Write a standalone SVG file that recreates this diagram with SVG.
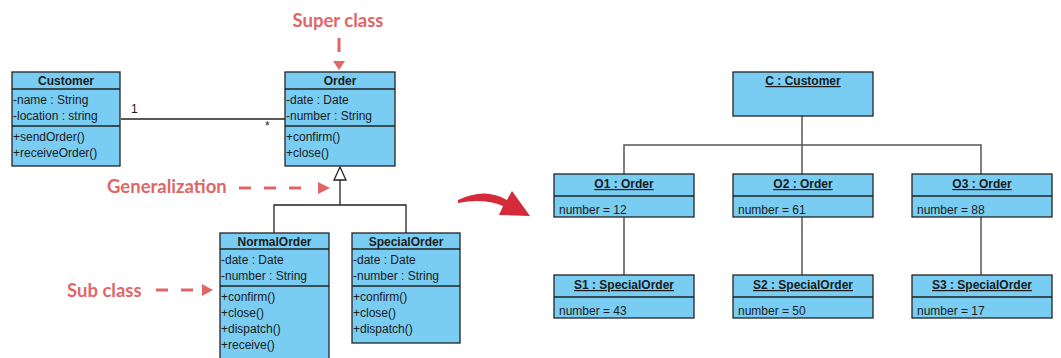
<svg xmlns="http://www.w3.org/2000/svg" width="1061" height="358" viewBox="0 0 1061 358">
<defs>
<style>
.box{fill:#79cdf3;stroke:#222;stroke-width:1.3}
.div{stroke:#222;stroke-width:1.3}
.t{font-family:"Liberation Sans",Arial,sans-serif;font-size:12px;fill:#1a1a1a}
.b{font-weight:bold;text-anchor:middle}
.u{text-decoration:underline}
.ann{font-family:Lato,"Liberation Sans",sans-serif;font-size:18.5px;font-weight:bold;fill:#e06666}
.dash{stroke:#e06666;stroke-width:3;stroke-dasharray:12 13;fill:none}
.ah{fill:#e06666}
.ln{stroke:#222;stroke-width:1.3;fill:none}
.gl{stroke:#555;stroke-width:1.5;fill:none}
</style>
</defs>
<g id="connectors">
<line class="ln" x1="121" y1="119" x2="285" y2="119"/>
<text class="t" x="131" y="113">1</text>
<text class="t" x="265" y="130">*</text>
<polyline class="ln" points="274,233 274,205 406,205 406,233"/>
<line class="ln" x1="340" y1="180" x2="340" y2="205"/>
<polygon points="340,167 334,180 346,180" fill="#fff" stroke="#222" stroke-width="1.3"/>
<polyline class="gl" points="624,174 624,145 981,145 981,174"/>
<line class="gl" x1="802" y1="116" x2="802" y2="174"/>
<line class="gl" x1="624" y1="217" x2="624" y2="275"/>
<line class="gl" x1="802" y1="217" x2="802" y2="275"/>
<line class="gl" x1="981" y1="217" x2="981" y2="275"/>
</g>
<g id="annotations">
<text class="ann" x="338" y="27" text-anchor="middle">Super class</text>
<line class="dash" x1="339" y1="38" x2="339" y2="52" style="stroke-dasharray:none"/>
<polygon class="ah" points="333,61 345,61 339,70"/>
<text class="ann" x="107" y="193">Generalization</text>
<line class="dash" x1="239" y1="188" x2="312" y2="188"/>
<polygon class="ah" points="318,182 318,194 330,188"/>
<text class="ann" x="67" y="297">Sub class</text>
<line class="dash" x1="156" y1="290" x2="195" y2="290"/>
<polygon class="ah" points="202,284 202,296 213,290"/>
<path d="M458,200 Q485,187 507,200 L512,191 L530,216 L499,215 L503,206 Q484,198 458,203 Z" fill="#d42a3a"/>
</g>
<g id="Customer">
<rect class="box" x="12" y="72" width="108" height="94"/>
<line class="div" x1="12" y1="89" x2="120" y2="89"/>
<line class="div" x1="12" y1="126" x2="120" y2="126"/>
<text class="t b" x="66" y="85">Customer</text>
<text class="t" x="13" y="104">-name : String</text>
<text class="t" x="13" y="120">-location : string</text>
<text class="t" x="13" y="141">+sendOrder()</text>
<text class="t" x="13" y="157">+receiveOrder()</text>
</g>
<g id="Order">
<rect class="box" x="285" y="72" width="110" height="94"/>
<line class="div" x1="285" y1="89" x2="395" y2="89"/>
<line class="div" x1="285" y1="126" x2="395" y2="126"/>
<text class="t b" x="340" y="85">Order</text>
<text class="t" x="286" y="104">-date : Date</text>
<text class="t" x="286" y="120">-number : String</text>
<text class="t" x="286" y="141">+confirm()</text>
<text class="t" x="286" y="157">+close()</text>
</g>
<g id="NormalOrder">
<rect class="box" x="220" y="233" width="109" height="130"/>
<line class="div" x1="220" y1="249" x2="329" y2="249"/>
<line class="div" x1="220" y1="286" x2="329" y2="286"/>
<text class="t b" x="274.5" y="246">NormalOrder</text>
<text class="t" x="221" y="264">-date : Date</text>
<text class="t" x="221" y="280">-number : String</text>
<text class="t" x="221" y="301">+confirm()</text>
<text class="t" x="221" y="317">+close()</text>
<text class="t" x="221" y="333">+dispatch()</text>
<text class="t" x="221" y="349">+receive()</text>
</g>
<g id="SpecialOrder">
<rect class="box" x="352" y="233" width="108" height="110"/>
<line class="div" x1="352" y1="249" x2="460" y2="249"/>
<line class="div" x1="352" y1="286" x2="460" y2="286"/>
<text class="t b" x="406" y="246">SpecialOrder</text>
<text class="t" x="353" y="264">-date : Date</text>
<text class="t" x="353" y="280">-number : String</text>
<text class="t" x="353" y="301">+confirm()</text>
<text class="t" x="353" y="317">+close()</text>
<text class="t" x="353" y="333">+dispatch()</text>
</g>
<g id="C_Customer">
<rect class="box" x="733" y="72" width="140" height="44"/>
<text class="t b u" x="803" y="85">C : Customer</text>
</g>
<g id="O1">
<rect class="box" x="554" y="174" width="140" height="43"/>
<line class="div" x1="554" y1="196" x2="694" y2="196"/>
<text class="t b u" x="624" y="188">O1 : Order</text>
<text class="t" x="559" y="214">number = 12</text>
</g>
<g id="O2">
<rect class="box" x="733" y="174" width="140" height="43"/>
<line class="div" x1="733" y1="196" x2="873" y2="196"/>
<text class="t b u" x="803" y="188">O2 : Order</text>
<text class="t" x="738" y="214">number = 61</text>
</g>
<g id="O3">
<rect class="box" x="912" y="174" width="140" height="43"/>
<line class="div" x1="912" y1="196" x2="1052" y2="196"/>
<text class="t b u" x="982" y="188">O3 : Order</text>
<text class="t" x="917" y="214">number = 88</text>
</g>
<g id="S1">
<rect class="box" x="554" y="275" width="140" height="43"/>
<line class="div" x1="554" y1="297" x2="694" y2="297"/>
<text class="t b u" x="624" y="289">S1 : SpecialOrder</text>
<text class="t" x="559" y="315">number = 43</text>
</g>
<g id="S2">
<rect class="box" x="733" y="275" width="140" height="43"/>
<line class="div" x1="733" y1="297" x2="873" y2="297"/>
<text class="t b u" x="803" y="289">S2 : SpecialOrder</text>
<text class="t" x="738" y="315">number = 50</text>
</g>
<g id="S3">
<rect class="box" x="912" y="275" width="140" height="43"/>
<line class="div" x1="912" y1="297" x2="1052" y2="297"/>
<text class="t b u" x="982" y="289">S3 : SpecialOrder</text>
<text class="t" x="917" y="315">number = 17</text>
</g>
</svg>
